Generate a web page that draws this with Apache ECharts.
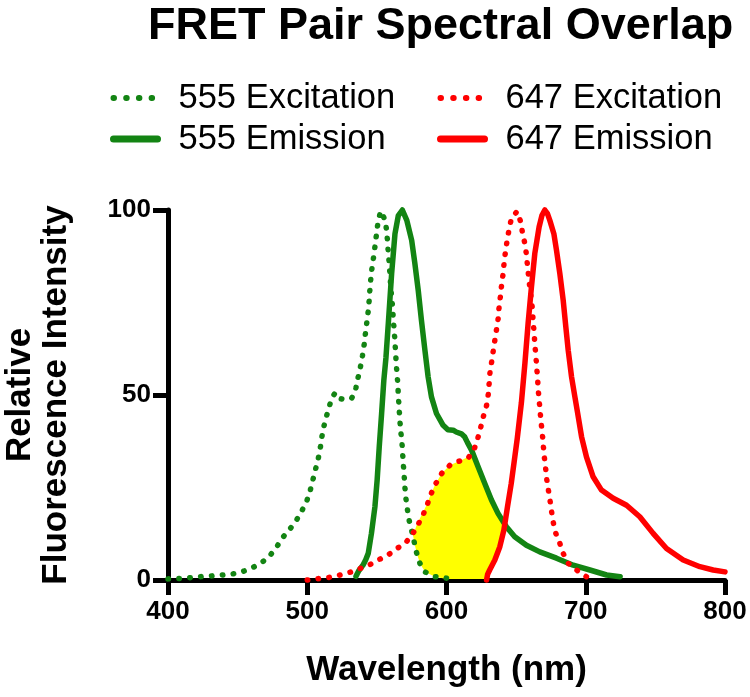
<!DOCTYPE html>
<html>
<head>
<meta charset="utf-8">
<title>FRET Pair Spectral Overlap</title>
<script src="https://cdn.jsdelivr.net/npm/echarts@6/dist/echarts.min.js"></script>
<style>
  html, body { margin: 0; padding: 0; background: #fff; }
  #chart { width: 750px; height: 697px; }
</style>
</head>
<body>
<div id="chart"></div>
<script>
// spectra, [wavelength nm, relative intensity]
var ex555 = [[400,0.3],[408,0.4],[415,0.6],[423,0.9],[431,1.1],[438,1.3],[446,1.6],[453,2.2],[460,3.2],[467,4.6],[473,6.5],[478,8.9],[482,11.3],[487.6,13.8],[492,16],[496,18.6],[499.6,21.3],[502,24],[504,27],[506,30],[508,33],[509.5,36],[510.5,38.7],[512,41.6],[514,44.5],[516.3,47.5],[518,49.5],[520,50.5],[522,50.3],[524,49],[526,48.8],[529,48.8],[532,49.2],[534,50.5],[535,52],[536.6,54.9],[538.3,57.8],[539.7,60.7],[540.9,63.7],[541.8,66.7],[542.8,69.7],[543.8,72.7],[544.5,75.7],[545,78.6],[545.7,81.7],[546.6,84.7],[547.9,87.9],[548.8,90.7],[549.8,93.7],[550.8,96.7],[552.7,99.7],[553.5,100],[555.8,97.4],[557,94.5],[557.7,91.3],[558.2,88.3],[558.9,85.5],[559.4,82.4],[559.9,79.6],[560.6,76.5],[561.3,73.6],[561.8,70.3],[562.5,67.3],[563,64.3],[563.5,61.3],[563.9,58.3],[564.6,55.3],[565.1,52.4],[565.5,49.3],[566,46.3],[566.5,43.2],[567.2,40],[568,37.3],[568.5,34.2],[569,31.3],[569.6,28.3],[570.1,25.2],[570.8,22.2],[571.8,19.4],[573,16.4],[574.9,13.5],[576.8,10.3],[578.5,7.4],[580.9,4.5],[584.5,2.2],[591.7,0.9],[600,0.5]];
var em555 = [[535,1],[537,2.5],[540,4],[542,5.5],[543.8,7.2],[546.1,12.6],[548.6,19.8],[550.2,27],[551.7,36],[553.4,45],[555,54],[556.5,60],[558.2,69.3],[560.6,82.8],[563,93.6],[565.4,98.5],[568.3,100],[571.5,97.2],[575,91.8],[577.3,85.5],[579.7,78.3],[582,70.2],[584.5,62.1],[586.8,54.9],[589.2,49.5],[592.8,45],[597.6,41.8],[601,40.6],[604.8,40.5],[607,40],[610.7,39.5],[613,38.7],[615,37.2],[618,35.1],[622.7,30.6],[627.5,26.1],[632.3,21.6],[637,18],[643,14.4],[649,11.7],[657.4,9.4],[667,7.6],[679,5.9],[691,4],[703,2.7],[715,1.35],[724.7,0.9]];
var ex647 = [[500,0],[505,0.3],[513,0.5],[521,1.1],[529.4,1.9],[536.5,2.9],[543.8,3.9],[551,5.4],[558.2,6.8],[564,8.4],[570.8,10.1],[575.6,12.4],[579.6,15],[583.3,17.7],[586.3,20.5],[588.5,22.9],[591.6,25.6],[596.5,28.8],[602.4,31],[609,32.1],[615.7,33],[620,35.5],[622.4,38.2],[624.6,41.3],[626.5,44.2],[628.8,47.2],[630,50.2],[630.6,53],[631.2,56],[632.4,58.9],[633.6,62],[634.8,65],[636,67.9],[637.2,70.9],[637.8,74],[638.8,76.9],[639.6,79.9],[640.7,82.9],[641.4,85.9],[642.4,88.9],[643.6,91.9],[645,94.9],[646.7,97.9],[650.7,99.6],[653.4,96.7],[654.6,93.7],[656.3,90.9],[657.5,87.7],[658.2,84.7],[659.1,81.7],[659.9,78.7],[661,75.8],[661.8,72.7],[662.2,69.7],[663,66.7],[663.4,63.7],[664.2,60.7],[664.7,57.8],[665.4,54.7],[665.8,51.7],[666.5,48.8],[667.2,45.7],[667.9,42.7],[668.8,39.7],[669.4,36.9],[670.1,33.7],[671.1,30.6],[671.8,27.7],[673,24.7],[674.2,21.9],[675.3,18.9],[676.6,15.7],[678.3,12.8],[681.4,9.9],[683.8,7.2],[687.4,4.5],[693.4,2.7],[700.5,0.9]];
var em647 = [[628.8,0],[629.5,1.5],[631,2.7],[634.7,5.4],[638.3,9],[641.2,13.5],[643.8,19.8],[646.5,26.1],[648.6,32],[650.8,38.2],[653.8,48],[656.3,58.5],[658.6,69.3],[661,79.2],[663.4,88.2],[666.5,95.4],[668.5,98.5],[670.6,100],[672.5,99],[674.2,97.2],[677.1,93.6],[679,89.1],[681.4,82.8],[683.8,75.6],[685.7,68.4],[687.4,62.1],[689.8,54.9],[692.2,49.5],[694,45.5],[697,38.7],[700.5,33.3],[705.3,27.9],[711.3,24.3],[719.7,22.1],[729.3,20.2],[738.8,17.1],[748.4,12.6],[758,8.5],[770,5.4],[782,3.6],[791.5,2.7],[800,2.2]];
// outline of the yellow overlap area
var overlap = [[576,12],[578.5,14.8],[582,17.5],[585.6,20.2],[588.5,22.9],[591.6,25.6],[596.5,28.8],[602.4,31],[609,32.1],[614,33],[618.5,34.6],[622.7,30.6],[627.5,26.1],[632.3,21.6],[637,18],[641.8,14.9],[641.2,13.5],[638.3,9],[634.7,5.4],[631,2.7],[629,0.3],[600,0.3],[591.7,0.9],[584.5,2.2],[580.9,4.5],[578.5,7.4],[576.8,10.3]];

var xTicks = [400, 500, 600, 700, 800];
var yTicks = [0, 50, 100];

var green = '#138413';
var red = '#ff0000';
var font = 'Liberation Sans, Arial, Helvetica, sans-serif';
var dots = [0.5, 10.4];

var myChart = echarts.init(document.getElementById('chart'));

function lineSeries(name, data, color, dotted) {
  return {
    name: name,
    type: 'line',
    data: data,
    showSymbol: false,
    symbol: 'none',
    symbolSize: 0,
    clip: false,
    z: 3,
    color: color,
    lineStyle: {
      color: color,
      width: 5.5,
      type: dotted ? dots : 'solid',
      cap: 'round',
      join: 'round'
    }
  };
}

var legendText = { fontSize: 34.5, fontFamily: font, color: '#000', lineHeight: 38, padding: [0, 0, 0, 16] };

// legend keys: dotted ones get wider gaps so four dots fit like the original
function legendBlock(names, left) {
  return {
    data: [
      { name: names[0], lineStyle: { width: 6, type: [0.5, 12.2], cap: 'round' } },
      { name: names[1], lineStyle: { width: 7, cap: 'round' } }
    ],
    orient: 'vertical',
    left: left,
    top: 74,
    itemWidth: 44,
    itemHeight: 14,
    itemGap: 3,
    itemStyle: { opacity: 0 },
    textStyle: legendText
  };
}

myChart.setOption({
  animation: false,
  title: {
    text: 'FRET Pair Spectral Overlap',
    left: 143,
    top: -1,
    textStyle: { fontSize: 45, fontWeight: 'bold', fontFamily: font, color: '#000' }
  },
  legend: [
    legendBlock(['555 Excitation', '555 Emission'], 105),
    legendBlock(['647 Excitation', '647 Emission'], 432)
  ],
  grid: { left: 168, right: 25, top: 210, bottom: 117, containLabel: false, outerBoundsMode: 'none' },
  xAxis: {
    type: 'value',
    min: xTicks[0],
    max: xTicks[xTicks.length - 1],
    interval: 100,
    name: 'Wavelength (nm)',
    nameLocation: 'middle',
    nameGap: 73,
    nameTextStyle: { fontSize: 35, fontWeight: 'bold', fontFamily: font, color: '#000' },
    splitLine: { show: false },
    axisLine: { lineStyle: { color: '#000', width: 5 } },
    axisTick: { length: 15, lineStyle: { color: '#000', width: 5 } },
    axisLabel: { fontSize: 26, fontWeight: 'bold', fontFamily: font, color: '#000', margin: 19 }
  },
  yAxis: {
    type: 'value',
    min: yTicks[0],
    max: yTicks[yTicks.length - 1],
    interval: 50,
    name: 'Relative\nFluorescence Intensity',
    nameLocation: 'middle',
    nameGap: 94,
    nameTextStyle: { fontSize: 35, fontWeight: 'bold', fontFamily: font, color: '#000', lineHeight: 36 },
    splitLine: { show: false },
    axisLine: { lineStyle: { color: '#000', width: 5 } },
    axisTick: { length: 15, lineStyle: { color: '#000', width: 5 } },
    axisLabel: { fontSize: 26, fontWeight: 'bold', fontFamily: font, color: '#000', margin: 17 }
  },
  series: [
    {
      name: 'overlap',
      type: 'custom',
      z: 1,
      silent: true,
      data: [0],
      renderItem: function (params, api) {
        var pts = overlap.map(function (p) { return api.coord(p); });
        return {
          type: 'polygon',
          shape: { points: pts },
          style: { fill: '#ffff00', stroke: null }
        };
      }
    },
    lineSeries('555 Excitation', ex555, green, true),
    lineSeries('555 Emission', em555, green, false),
    lineSeries('647 Excitation', ex647, red, true),
    lineSeries('647 Emission', em647, red, false)
  ]
});
</script>
</body>
</html>
